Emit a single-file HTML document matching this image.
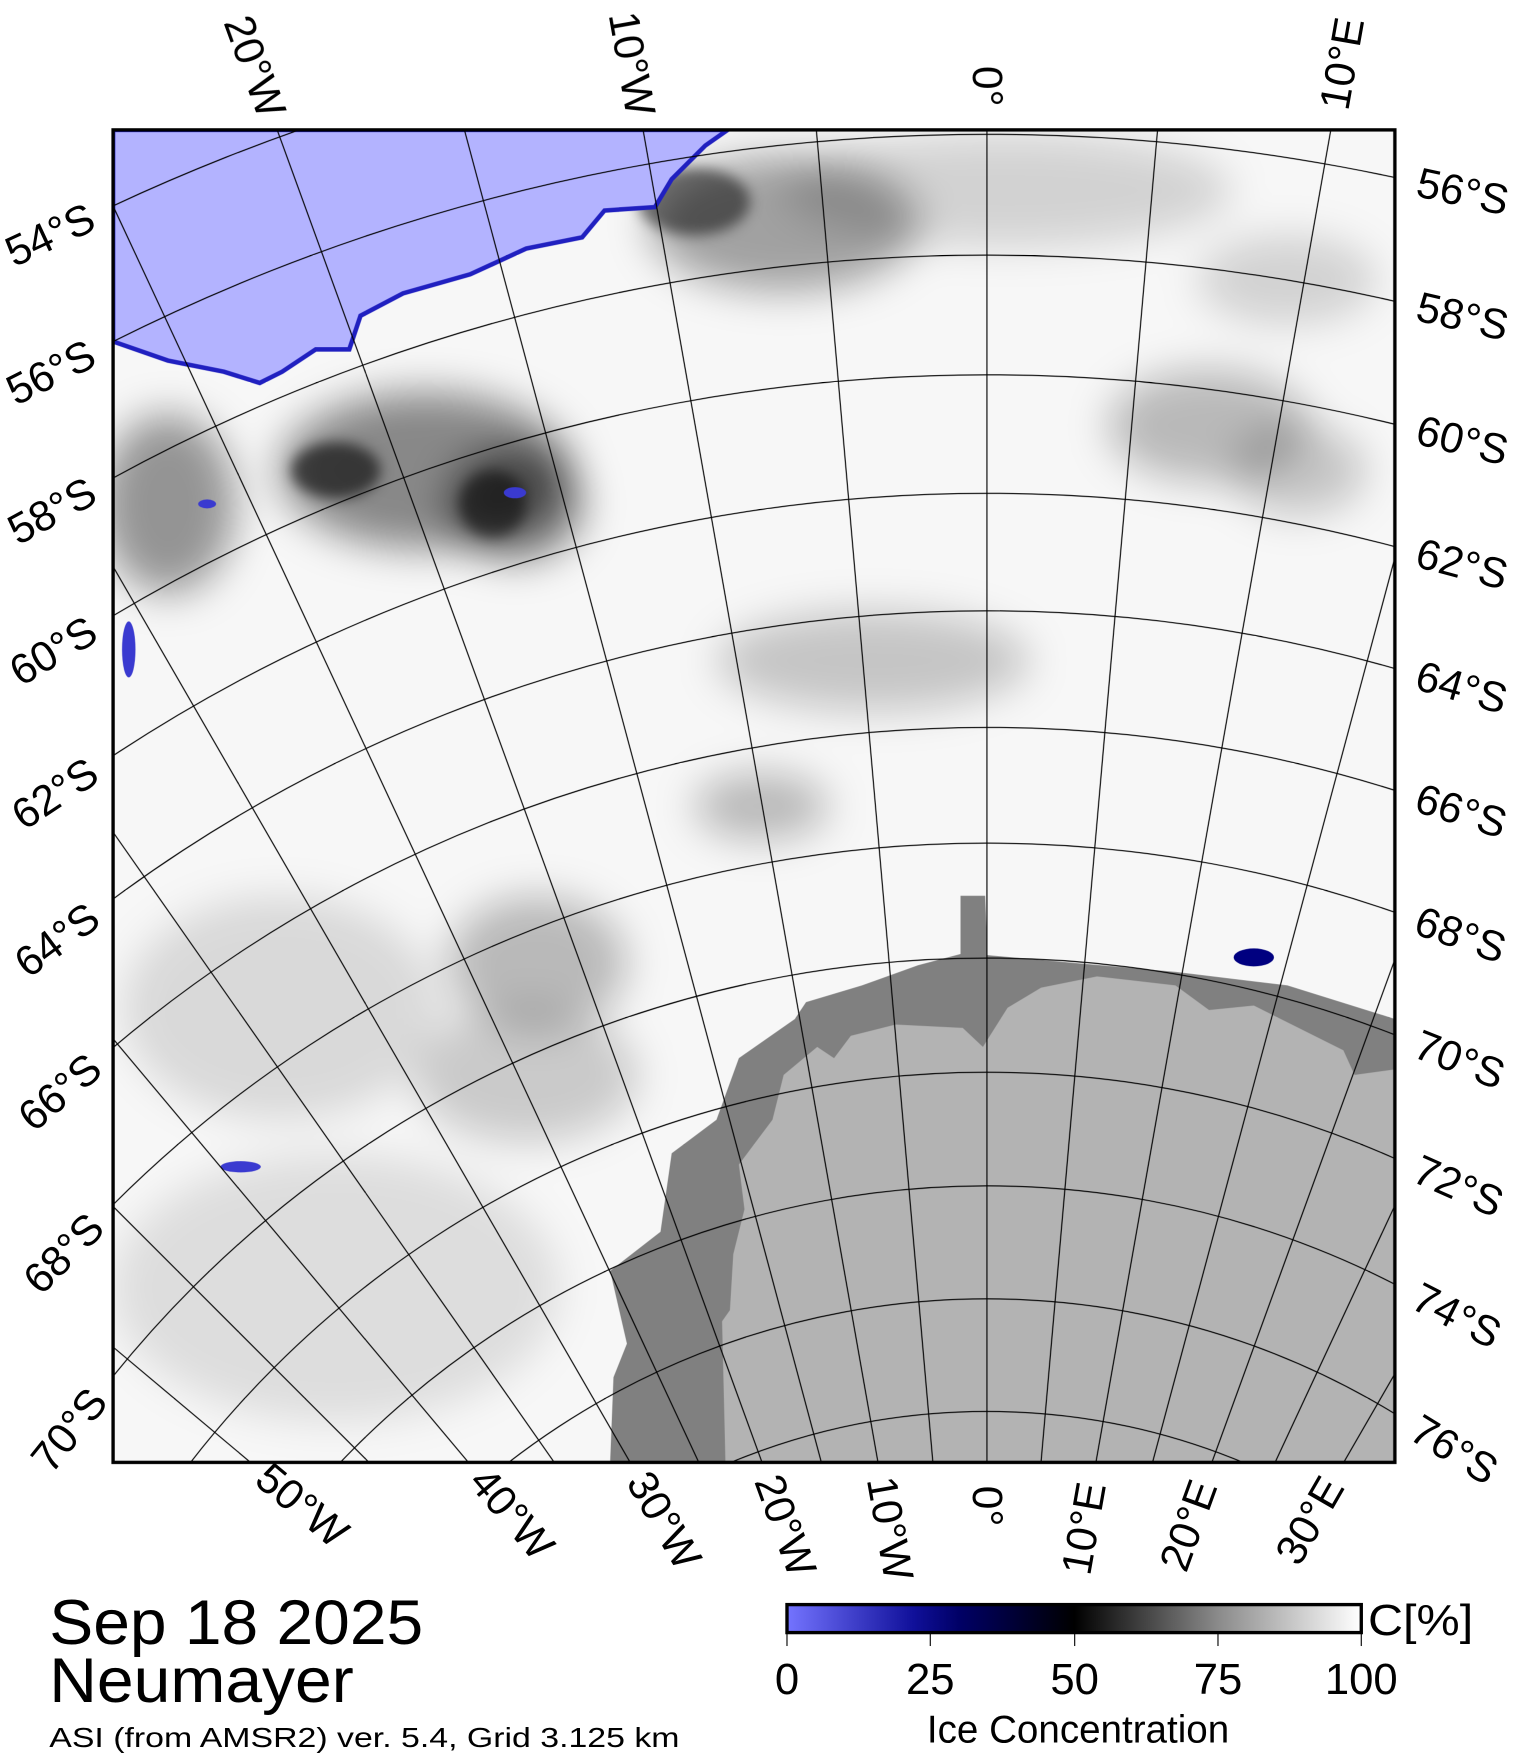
<!DOCTYPE html>
<html><head><meta charset="utf-8"><style>
html,body{margin:0;padding:0;background:#fff;overflow:hidden;width:1518px;height:1758px}
svg{display:block}
text{font-family:"Liberation Sans",sans-serif;fill:#000}
</style></head><body>
<svg id="s" width="1518" height="1758" viewBox="0 0 1356 1570" preserveAspectRatio="none" xmlns="http://www.w3.org/2000/svg">
<defs>
<clipPath id="fr"><rect x="101" y="116" width="1145" height="1190"/></clipPath>
<filter id="b1" x="-50%" y="-50%" width="200%" height="200%"><feGaussianBlur stdDeviation="18"/></filter>
<filter id="b2" x="-50%" y="-50%" width="200%" height="200%"><feGaussianBlur stdDeviation="6"/></filter>
<linearGradient id="cb" x1="0" x2="1" y1="0" y2="0">
<stop offset="0" stop-color="#7474ff"/>
<stop offset="0.22" stop-color="#10109a"/>
<stop offset="0.3" stop-color="#000066"/>
<stop offset="0.5" stop-color="#000"/>
<stop offset="0.75" stop-color="#8a8a8a"/>
<stop offset="1" stop-color="#fff"/>
</linearGradient>
</defs>
<rect x="0" y="0" width="1356" height="1570" fill="#fff"/>
<g clip-path="url(#fr)">
<rect x="101" y="116" width="1145" height="1190" fill="#f7f7f7"/>
<g filter="url(#b1)" fill="#000">
<ellipse cx="380" cy="420" rx="130" ry="70" opacity="0.45"/>
<ellipse cx="460" cy="450" rx="60" ry="50" opacity="0.5"/>
<ellipse cx="700" cy="200" rx="120" ry="60" opacity="0.35"/>
<ellipse cx="1080" cy="380" rx="90" ry="50" opacity="0.25"/>
<ellipse cx="1160" cy="420" rx="60" ry="40" opacity="0.2"/>
<ellipse cx="780" cy="590" rx="140" ry="45" opacity="0.2"/>
<ellipse cx="680" cy="720" rx="60" ry="30" opacity="0.25"/>
<ellipse cx="480" cy="860" rx="80" ry="60" opacity="0.25"/>
<ellipse cx="470" cy="960" rx="100" ry="60" opacity="0.18"/>
<ellipse cx="250" cy="900" rx="140" ry="100" opacity="0.12"/>
<ellipse cx="300" cy="1150" rx="200" ry="120" opacity="0.1"/>
<ellipse cx="900" cy="170" rx="200" ry="50" opacity="0.15"/>
<ellipse cx="1150" cy="250" rx="80" ry="40" opacity="0.15"/>
<ellipse cx="150" cy="450" rx="60" ry="80" opacity="0.4"/>
</g>
<g filter="url(#b2)" fill="#000">
<ellipse cx="620" cy="180" rx="50" ry="30" opacity="0.5"/>
<ellipse cx="300" cy="420" rx="40" ry="25" opacity="0.6"/>
<ellipse cx="440" cy="450" rx="30" ry="30" opacity="0.5"/>
</g>
<polygon fill="#b3b3ff" stroke="#2020c0" stroke-width="4" points="101,116 650,116 630,130 600,160 585,185 540,188 520,212 470,222 420,245 360,262 322,282 312,312 282,312 252,332 232,342 200,332 150,322 101,305"/>
<g fill="#3a3ad0"><ellipse cx="185" cy="450" rx="8" ry="4"/><ellipse cx="115" cy="580" rx="6" ry="25"/><ellipse cx="215" cy="1042" rx="18" ry="5"/><ellipse cx="1120" cy="855" rx="18" ry="8" fill="#000080"/><ellipse cx="460" cy="440" rx="10" ry="5"/></g>
<polygon fill="#808080" points="545,1306 548,1230 560,1200 545,1135 590,1100 600,1030 640,1000 660,945 710,910 720,895 770,880 820,862 858,852 858,800 880,800 882,853 960,860 1050,868 1150,880 1246,910 1246,1306"/>
<polygon fill="#b3b3b3" points="648,1306 645,1180 652,1170 655,1120 665,1080 660,1040 690,1000 700,960 730,935 745,945 760,925 800,915 860,918 878,935 900,900 930,882 980,872 1050,880 1080,902 1120,898 1160,918 1200,938 1210,960 1246,955 1246,1306"/>
<g id="grat" fill="none" stroke="#000" stroke-width="1"></g>
</g>
<rect x="101" y="116" width="1145" height="1190" fill="none" stroke="#000" stroke-width="3"/>
<g id="labs" font-size="38"></g>
<text x="44" y="1468" font-size="56" textLength="334" lengthAdjust="spacingAndGlyphs">Sep 18 2025</text>
<text x="44" y="1520" font-size="56" textLength="272" lengthAdjust="spacingAndGlyphs">Neumayer</text>
<text x="44" y="1560" font-size="25" textLength="563" lengthAdjust="spacingAndGlyphs">ASI (from AMSR2) ver. 5.4,  Grid 3.125 km</text>
<rect x="703" y="1433" width="513" height="25" fill="url(#cb)" stroke="#000" stroke-width="3"/>
<g stroke="#000" stroke-width="1"><line x1="703" y1="1458" x2="703" y2="1470"/><line x1="831" y1="1458" x2="831" y2="1470"/><line x1="960" y1="1458" x2="960" y2="1470"/><line x1="1088" y1="1458" x2="1088" y2="1470"/><line x1="1216" y1="1458" x2="1216" y2="1470"/></g>
<g font-size="39" text-anchor="middle"><text x="703" y="1513">0</text><text x="831" y="1513">25</text><text x="960" y="1513">50</text><text x="1088" y="1513">75</text><text x="1216" y="1513">100</text></g>
<text x="1222" y="1460" font-size="39" textLength="94" lengthAdjust="spacingAndGlyphs">C[%]</text>
<text x="963" y="1556" font-size="35" text-anchor="middle" textLength="270" lengthAdjust="spacingAndGlyphs">Ice Concentration</text>
</svg>
<script>
(function(){
var NS="http://www.w3.org/2000/svg";
var px=881.6, py=1858, k=5685;
var L=101,T=116,R=1246,B=1306;
var g=document.getElementById('grat'), lb=document.getElementById('labs');
function el(n,a,p){var e=document.createElementNS(NS,n);for(var q in a)e.setAttribute(q,a[q]);p.appendChild(e);return e;}
function lab(txt,x,y,ang){var t=el('text',{x:x,y:y,'text-anchor':'middle','dominant-baseline':'central',transform:'rotate('+ang+' '+x+' '+y+')'},lb);t.textContent=txt;}
function norm(a){while(a>90)a-=180;while(a<=-90)a+=180;return a;}
for(var lon=-85;lon<=45;lon+=5){
 var r=lon*Math.PI/180, dx=Math.sin(r), dy=-Math.cos(r);
 el('line',{x1:px,y1:py,x2:px+dx*4000,y2:py+dy*4000},g);
 if(lon%10!==0)continue;
 var ang=Math.atan2(dy,dx)*180/Math.PI, ta=norm(ang);
 var name=lon===0?'0°':(Math.abs(lon)+'°'+(lon<0?'W':'E'));
 var len=name.length*21;
 var tb=(B-py)/dy, xb=px+dx*tb;
 if(xb>L&&xb<R){var d=18+len/2;lab(name,xb-dx*d,B-dy*d,ta);}
 var tt=(T-py)/dy, xt=px+dx*tt;
 if(xt>L&&xt<R){var d2=18+len/2;lab(name,xt+dx*d2,T+dy*d2,ta);}
}
for(var lat=50;lat<=80;lat+=2){
 var rr=k*Math.tan((90-lat)/2*Math.PI/180);
 el('circle',{cx:px,cy:py,r:rr},g);
 if(lat>76)continue;
 var name=lat+'°S', len=name.length*21;
 [[L,-1],[R,1]].forEach(function(e){
  var ddx=e[0]-px; if(Math.abs(ddx)>rr)return;
  var y=py-Math.sqrt(rr*rr-ddx*ddx); if(y<T||y>B)return;
  var rx=(e[0]-px)/rr, ry=(y-py)/rr;
  var tx=-ry*e[1], ty=rx*e[1];
  if(tx*e[1]<0){tx=-tx;ty=-ty;}
  var d=20+len/2;
  lab(name,e[0]+tx*d,y+ty*d,norm(Math.atan2(ty,tx)*180/Math.PI));
 });
}
})();
</script>
</body></html>
